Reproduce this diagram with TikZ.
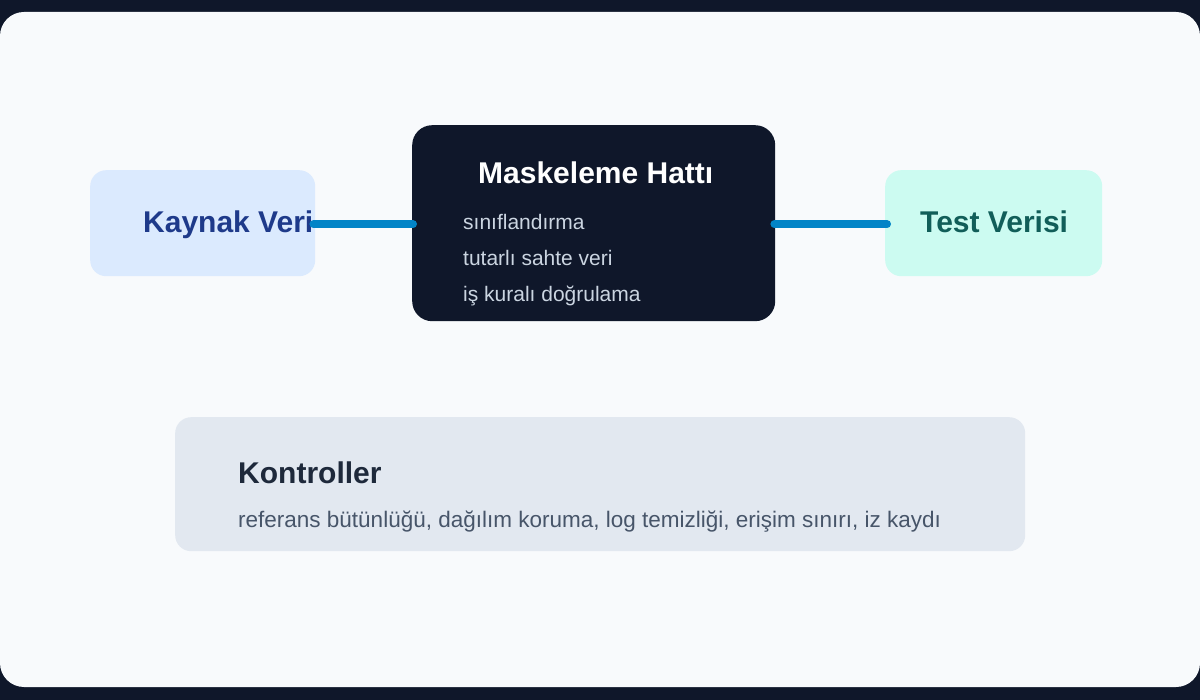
\documentclass[tikz,border=0pt]{standalone}
\usepackage{fontspec}
\setmainfont{Liberation Sans}
\definecolor{bgdark}{HTML}{0F172A}
\definecolor{panel}{HTML}{F8FAFC}
\definecolor{srcfill}{HTML}{DBEAFE}
\definecolor{srctext}{HTML}{1E3A8A}
\definecolor{tstfill}{HTML}{CCFBF1}
\definecolor{tsttext}{HTML}{115E59}
\definecolor{ctlfill}{HTML}{E2E8F0}
\definecolor{ctltitle}{HTML}{1E293B}
\definecolor{ctltext}{HTML}{475569}
\definecolor{linetext}{HTML}{CBD5E1}
\definecolor{conn}{HTML}{0284C7}
\tikzset{box/.style={rounded corners=16pt, draw=none},
 link/.style={conn, line width=8pt, line cap=round}}
\begin{document}
\begin{tikzpicture}[x=1pt,y=-1pt]
\fill[bgdark] (0,0) rectangle (1200,700);
\useasboundingbox (0,0) rectangle (1200,700);
\fill[panel, rounded corners=24pt] (0,12) rectangle (1200,687);
\node[box, fill=srcfill, minimum width=225pt, minimum height=106pt, anchor=north west] (kaynak) at (90,170) {};
\node[anchor=base west, text=srctext, font=\bfseries\fontsize{30}{34}\selectfont, inner sep=0] (kaynakt) at (143,233) {Kaynak Veri};
\node[box, fill=bgdark, minimum width=363pt, minimum height=196pt, anchor=north west, rounded corners=20pt] (mask) at (412,125) {};
\node[anchor=base west, text=white, font=\bfseries\fontsize{30}{34}\selectfont, inner sep=0] (maskt) at (478,184) {Maskeleme Hattı};
\node[anchor=base west, text=linetext, font=\fontsize{21}{24}\selectfont, inner sep=0] (m1) at (463,230) {sınıflandırma};
\node[anchor=base west, text=linetext, font=\fontsize{21}{24}\selectfont, inner sep=0] (m2) at (463,266) {tutarlı sahte veri};
\node[anchor=base west, text=linetext, font=\fontsize{21}{24}\selectfont, inner sep=0] (m3) at (463,302) {iş kuralı doğrulama};
\node[box, fill=tstfill, minimum width=217pt, minimum height=106pt, anchor=north west] (test) at (885,170) {};
\node[anchor=base west, text=tsttext, font=\bfseries\fontsize{30}{34}\selectfont, inner sep=0] (testt) at (920,233) {Test Verisi};
\node[box, fill=ctlfill, minimum width=850pt, minimum height=134pt, anchor=north west] (ctl) at (175,417) {};
\node[anchor=base west, text=ctltitle, font=\bfseries\fontsize{30}{34}\selectfont, inner sep=0] (ctlt) at (238,483) {Kontroller};
\node[anchor=base west, text=ctltext, font=\fontsize{22.5}{26}\selectfont, inner sep=0] (ctls) at (238,527) {referans bütünlüğü, dağılım koruma, log temizliği, erişim sınırı, iz kaydı};
\draw[link] ([xshift=-2pt,yshift=-1pt]kaynak.east) -- ([xshift=1pt,yshift=-1pt]mask.west);
\draw[link] ([xshift=-1pt,yshift=-1pt]mask.east) -- ([xshift=2pt,yshift=-1pt]test.west);
\end{tikzpicture}
\end{document}
